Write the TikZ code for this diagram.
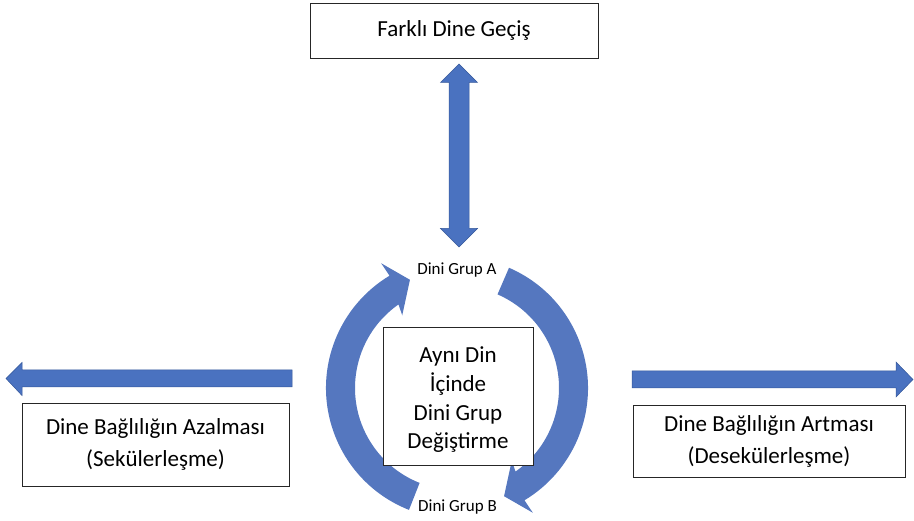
\documentclass[tikz,border=0pt]{standalone}
\usepackage{fontspec}
\setmainfont{Carlito}
\usetikzlibrary{calc}
\definecolor{arrowblue}{HTML}{4A72C0}
\definecolor{ringblue}{HTML}{5577BF}
\definecolor{arrowedge}{HTML}{35589A}
\begin{document}
\begin{tikzpicture}[x=1pt,y=1pt,
  box/.style={draw=black!85, line width=0.8pt, fill=white, inner sep=0pt, align=center,
              font=\fontsize{23}{32}\selectfont},
  boxtext/.style={inner sep=0pt, align=center, font=\fontsize{23}{28.7}\selectfont},
  blockarrow/.style={fill=arrowblue, draw=arrowedge, line width=0.5pt, line join=miter},
  ringarrow/.style={fill=ringblue, draw=none},
  grouplabel/.style={font=\fontsize{17}{20}\selectfont, inner sep=0pt}]
\useasboundingbox (0,0) rectangle (914,520);

% ring of two curved arrows
\coordinate (c) at (457,132);
\fill[ringarrow] ($(c)+(248.5:131)$) arc[start angle=248.5, end angle=121, radius=131]
  -- ($(c)+(121.3:146)$) -- ($(c)+(113.5:118)$) -- ($(c)+(127:91)$)
  -- ($(c)+(125:102)$) arc[start angle=125, end angle=248.5, radius=102] -- cycle;
\fill[ringarrow] ($(c)+(66.6:131)$) arc[start angle=66.6, end angle=-59, radius=131]
  -- ($(c)+(-58.7:146)$) -- ($(c)+(-66.5:118)$) -- ($(c)+(-53:91)$)
  -- ($(c)+(-55:102)$) arc[start angle=-55, end angle=66.6, radius=102] -- cycle;

% vertical double arrow
\draw[blockarrow] (459,456) -- (477.5,437.5) -- (469,437.5) -- (469,291.5) -- (477.5,291.5)
  -- (459,273) -- (440.5,291.5) -- (449,291.5) -- (449,437.5) -- (440.5,437.5) -- cycle;

% left arrow
\draw[blockarrow] (6,141.5) -- (22,157.5) -- (22,150) -- (292,150) -- (292,133)
  -- (22,133) -- (22,124.5) -- cycle;

% right arrow
\draw[blockarrow] (913,140.5) -- (896,158) -- (896,149) -- (632,149) -- (632,132)
  -- (896,132) -- (896,123) -- cycle;

% boxes
\node[box, minimum width=288, minimum height=55] (shift) at (454,489.5) {Farklı Dine Geçiş};
\node[box, minimum width=267, minimum height=83] (secular) at (155.5,75.5)
  {Dine Bağlılığın Azalması\\(Sekülerleşme)};
\node[box, minimum width=272, minimum height=72] (desecular) at (769,79)
  {Dine Bağlılığın Artması\\(Desekülerleşme)};
\node[box, minimum width=150, minimum height=138] (switch) at (458,124) {};
\node[boxtext] (switchtext) at ($(switch.center)+(0,-4)$) {Aynı Din\\İçinde\\Dini Grup\\Değiştirme};

% labels
\node[grouplabel] (ga) at (457,250) {Dini Grup A};
\node[grouplabel] (gb) at (457.5,13) {Dini Grup B};
\end{tikzpicture}
\end{document}
